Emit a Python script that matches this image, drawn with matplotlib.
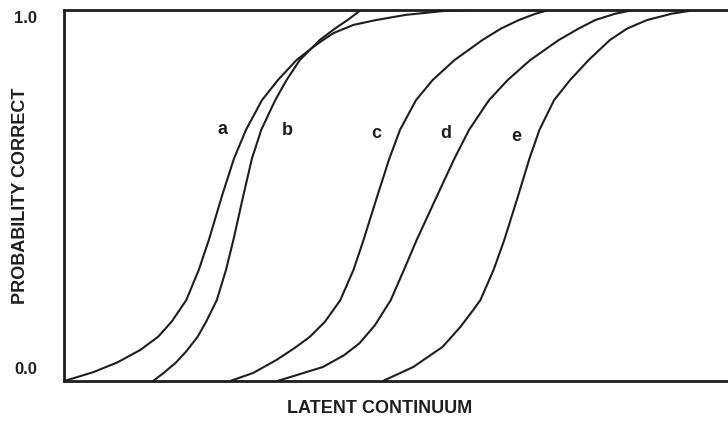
import matplotlib
matplotlib.use('Agg')
import matplotlib.pyplot as plt

# item characteristic curves: (latent value, probability correct)
labels = ['a', 'b', 'c', 'd', 'e']

theta_a = [0.00, 0.44, 0.80, 1.15, 1.42, 1.62, 1.84, 2.03, 2.18, 2.38, 2.56, 2.74, 2.98, 3.22, 3.50, 3.75, 3.90, 4.06, 4.36, 4.70, 5.15, 5.70, 6.10]
prob_a = [0.000, 0.024, 0.050, 0.084, 0.120, 0.160, 0.218, 0.300, 0.380, 0.500, 0.600, 0.677, 0.757, 0.811, 0.865, 0.900, 0.919, 0.938, 0.960, 0.973, 0.987, 0.997, 1.000]

theta_b = [1.34, 1.50, 1.68, 1.84, 2.01, 2.14, 2.30, 2.44, 2.55, 2.70, 2.83, 2.97, 3.18, 3.35, 3.55, 3.85, 4.08, 4.27, 4.47]
prob_b = [0.000, 0.022, 0.049, 0.080, 0.119, 0.160, 0.218, 0.300, 0.380, 0.500, 0.600, 0.677, 0.757, 0.811, 0.865, 0.919, 0.950, 0.973, 1.000]

theta_c = [2.50, 2.85, 3.20, 3.48, 3.70, 3.93, 4.16, 4.36, 4.51, 4.72, 4.90, 5.06, 5.30, 5.55, 5.88, 6.30, 6.58, 6.85, 7.10, 7.30]
prob_c = [0.000, 0.022, 0.057, 0.090, 0.119, 0.160, 0.218, 0.300, 0.380, 0.500, 0.600, 0.677, 0.757, 0.811, 0.865, 0.919, 0.950, 0.973, 0.990, 1.000]

theta_d = [3.21, 3.90, 4.22, 4.45, 4.68, 4.92, 5.12, 5.31, 5.62, 5.88, 6.10, 6.40, 6.68, 7.02, 7.45, 7.75, 8.00, 8.30, 8.57]
prob_d = [0.000, 0.038, 0.070, 0.102, 0.150, 0.218, 0.300, 0.380, 0.500, 0.600, 0.677, 0.757, 0.811, 0.865, 0.919, 0.950, 0.973, 0.990, 1.000]

theta_e = [4.80, 5.26, 5.70, 5.97, 6.16, 6.27, 6.47, 6.63, 6.84, 7.01, 7.16, 7.38, 7.62, 7.90, 8.22, 8.48, 8.78, 9.15, 9.50]
prob_e = [0.000, 0.038, 0.092, 0.146, 0.191, 0.218, 0.300, 0.380, 0.500, 0.600, 0.677, 0.757, 0.811, 0.865, 0.919, 0.950, 0.973, 0.990, 1.000]

# where the letters sit next to each curve
label_x = [2.38, 3.37, 4.70, 5.75, 6.81]
label_y = [0.677, 0.674, 0.666, 0.666, 0.660]

curves = [(theta_a, prob_a), (theta_b, prob_b), (theta_c, prob_c),
          (theta_d, prob_d), (theta_e, prob_e)]

ink = '#1e1e1e'
plt.rcParams['font.family'] = ['Liberation Sans', 'DejaVu Sans']

fig = plt.figure(figsize=(7.28, 4.36), dpi=100)
ax = fig.add_axes([0.088, 0.126, 0.912, 0.851])

for th, p in curves:
    ax.plot(th, p, color=ink, lw=1.5, solid_joinstyle='round',
            solid_capstyle='round')

for lab, lx, ly in zip(labels, label_x, label_y):
    ax.text(lx, ly, lab, ha='center', va='center', fontsize=13,
            fontweight='bold', color=ink)

ax.set_xlim(0, 10)
ax.set_ylim(0, 1)
ax.set_xticks([])
ax.set_yticks([])
for side in ['left', 'top', 'bottom']:
    ax.spines[side].set_linewidth(2.0)
    ax.spines[side].set_color(ink)
ax.spines['right'].set_visible(False)

# tick values placed just inside the ends of the axis
ax.text(-0.041, 0.978, '1.0', transform=ax.transAxes, ha='right', va='center',
        fontsize=12, fontweight='bold', color=ink)
ax.text(-0.041, 0.030, '0.0', transform=ax.transAxes, ha='right', va='center',
        fontsize=12, fontweight='bold', color=ink)

ax.text(-0.066, 0.5, 'PROBABILITY CORRECT', transform=ax.transAxes, rotation=90,
        ha='center', va='center', fontsize=13, fontweight='bold', color=ink)
ax.text(0.476, -0.073, 'LATENT CONTINUUM', transform=ax.transAxes,
        ha='center', va='center', fontsize=13, fontweight='bold', color=ink)

fig.savefig('out.png', dpi=100)
